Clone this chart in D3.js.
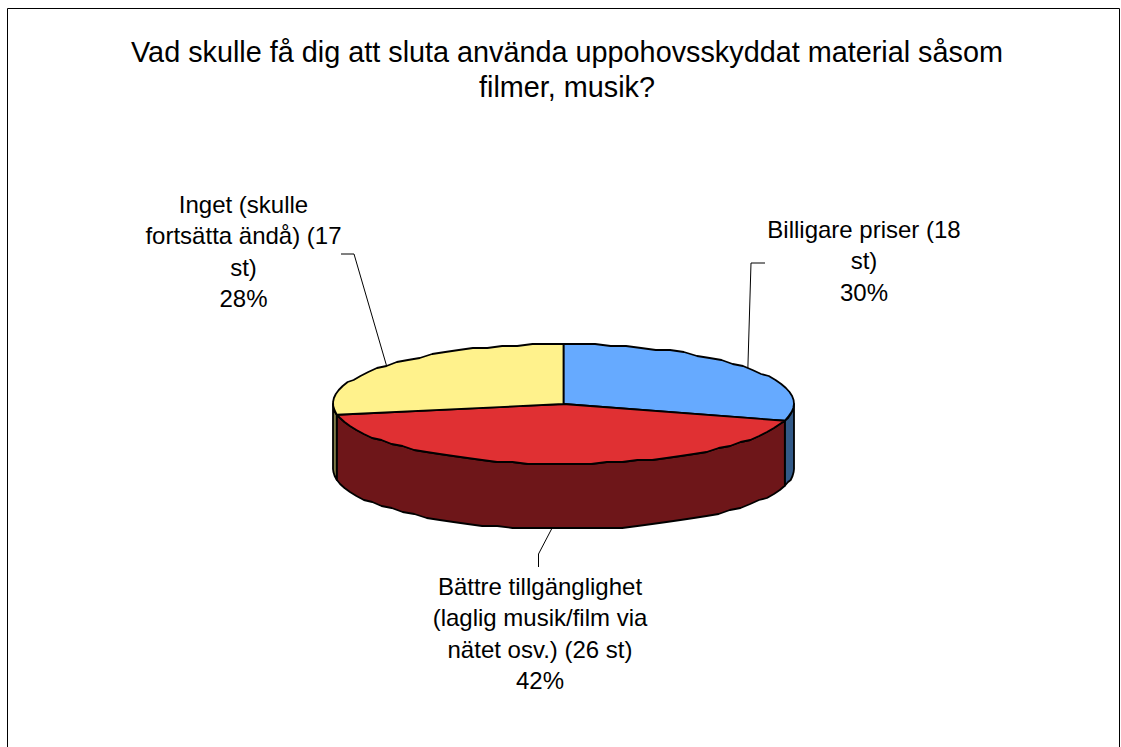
<!DOCTYPE html>
<html><head><meta charset="utf-8">
<script src="https://cdnjs.cloudflare.com/ajax/libs/d3/7.8.5/d3.min.js"></script>
<style>html,body{margin:0;padding:0;background:#fff;overflow:hidden}svg{display:block}text{font-family:"Liberation Sans",Arial,sans-serif;fill:#000}</style>
</head><body><svg id="c" width="1121" height="747"></svg>
<script>
const titleLines = ["Vad skulle få dig att sluta använda uppohovsskyddat material såsom","filmer, musik?"];
const categories = ["Billigare priser (18 st)","Bättre tillgänglighet (laglig musik/film via nätet osv.) (26 st)","Inget (skulle fortsätta ändå) (17 st)"];
const values = [18,26,17];
const percents = ["30%","42%","28%"];
const labelLines = [["Billigare priser (18","st)","30%"],["Bättre tillgänglighet","(laglig musik/film via","nätet osv.) (26 st)","42%"],["Inget (skulle","fortsätta ändå) (17","st)","28%"]];
const topColors = ["#66aaff","#e03033","#fff28c"];
const sideColors = ["#335a88","#6e1619","#7f7a48"];

const svg = d3.select("#c");
svg.append("path").attr("d","M7.5,747V8.5H1119.5V747").attr("fill","none").attr("stroke","#000").attr("stroke-width",1);

const cx=563.5, cy=404, rx=230.5, ry=60, depth=65;
const px = d3.scaleLinear().domain([-1,1]).range([cx-rx,cx+rx]);
const py = d3.scaleLinear().domain([-1,1]).range([cy+ry,cy-ry]);
const pt=(a,dz=0)=>[px(Math.sin(a)),py(Math.cos(a))+dz];
const arcs = d3.pie().sort(null).value(d=>d)(values);
const step = Math.PI/45, grid=2;
const snap=p=>[p[0],Math.round(p[1]/grid)*grid];
function sample(a0,a1,dz){const n=Math.max(1,Math.ceil((a1-a0)/step));return d3.range(n+1).map(i=>{const q=pt(a0+(a1-a0)*i/n,dz);return (i==0||i==n)?q:snap(q);});}
const line = d3.line();

const g = svg.append("g").attr("stroke","#000").attr("stroke-width",1.8).attr("stroke-linejoin","round");
const nearA=Math.PI/2, nearB=3*Math.PI/2;
arcs.forEach((d,i)=>{
  const a0=Math.max(d.startAngle,nearA), a1=Math.min(d.endAngle,nearB);
  if(a1<=a0) return;
  const upper=sample(a0,a1,0), lower=sample(a0,a1,depth).reverse();
  g.append("path").attr("d",line(upper.concat(lower))+"Z").attr("fill",sideColors[i]);
});
arcs.forEach((d,i)=>{
  g.append("path").attr("d",line([[cx,cy]].concat(sample(d.startAngle,d.endAngle,0)))+"Z").attr("fill",topColors[i]);
});

const lab = [
  {k:[751,263],e:[765,263]},
  {k:[538.5,554],e:[538.5,567]},
  {k:[354,254],e:[341,254]}
];
const lg = svg.append("g").attr("fill","none").attr("stroke","#000").attr("stroke-width",1);
arcs.forEach((d,i)=>{
  const m=(d.startAngle+d.endAngle)/2;
  const near=Math.cos(m)<0;
  const s=pt(m,near?depth:0);
  lg.append("path").attr("d",line([s,lab[i].k,lab[i].e]));
});

const title = svg.append("text").attr("text-anchor","middle").attr("font-size",28.8);
titleLines.forEach((t,i)=>title.append("tspan").attr("x",567).attr("y",62+i*34.5).text(t));
const labelPos=[{x:864,y:238},{x:540,y:595},{x:243.5,y:213}];
labelLines.forEach((ls,i)=>{
  const t=svg.append("text").attr("text-anchor","middle").attr("font-size",24);
  ls.forEach((s,j)=>t.append("tspan").attr("x",labelPos[i].x).attr("y",labelPos[i].y+j*31.4).text(s));
});
</script></body></html>
